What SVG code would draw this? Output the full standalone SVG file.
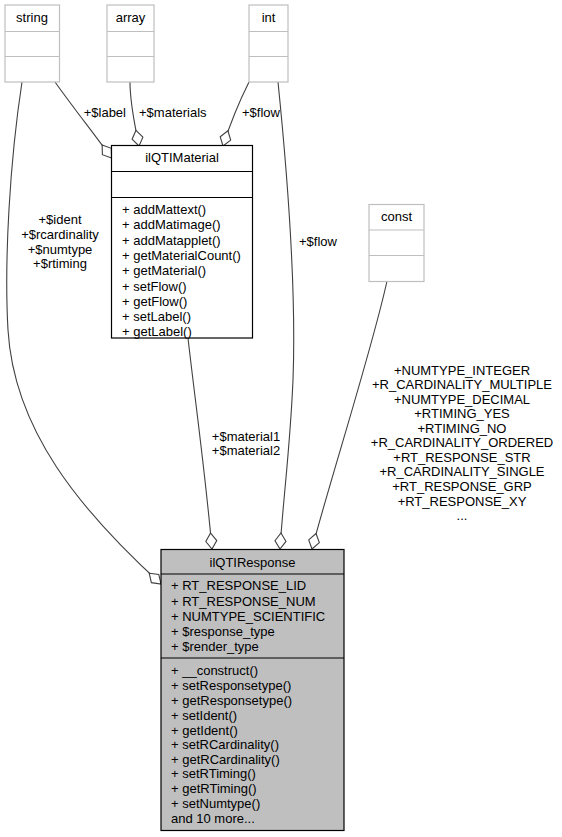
<svg xmlns="http://www.w3.org/2000/svg" width="562" height="837" viewBox="0 0 562 837">
<style>
text{font-family:"Liberation Sans",Arial,sans-serif;font-size:13px;fill:#000}
.c{text-anchor:middle}
.e{text-anchor:end}
.lt{fill:#fff;stroke:#bfbfbf;stroke-width:1.2}
.bk{fill:#fff;stroke:#000;stroke-width:1.2}
.gr{fill:#bfbfbf;stroke:#000;stroke-width:1.2}
.sepl{stroke:#bfbfbf;stroke-width:1.2}
.sepk{stroke:#000;stroke-width:1.2}
.edge{fill:none;stroke:#404040;stroke-width:1.1;marker-end:url(#od)}
</style>
<defs>
<marker id="od" markerUnits="userSpaceOnUse" markerWidth="18" markerHeight="12" refX="16" refY="5.5" orient="auto" overflow="visible">
<path d="M0,5.5 L8,0 L16,5.5 L8,11 Z" fill="#fff" stroke="#404040" stroke-width="1.1"/>
</marker>
</defs>

<g id="connectors">
<path class="edge" d="M22,82 C10,160 4,260 8,330 C14,430 80,510 161,584"/>
<path class="edge" d="M55,82 C75,110 95,135 111.5,158"/>
<path class="edge" d="M130,82 C130,105 135,125 139,146"/>
<path class="edge" d="M249,82 C240,100 232,118 223,146"/>
<path class="edge" d="M278,82 C290,200 296,300 293,380 C290,450 283,500 280,549"/>
<path class="edge" d="M387,281 C372,350 330,480 312,549"/>
<path class="edge" d="M188,338 C195,400 205,470 212,549"/>
<text class="e" x="126" y="117">+$label</text>
<text x="139" y="117">+$materials</text>
<text x="242" y="117">+$flow</text>
<text x="299" y="246">+$flow</text>
<text class="c" x="60" y="224">+$ident</text>
<text class="c" x="60" y="239">+$rcardinality</text>
<text class="c" x="60" y="254">+$numtype</text>
<text class="c" x="60" y="268">+$rtiming</text>
<text class="c" x="246" y="441">+$material1</text>
<text class="c" x="246" y="455">+$material2</text>
<text class="c" x="462" y="375">+NUMTYPE_INTEGER</text>
<text class="c" x="462" y="389">+R_CARDINALITY_MULTIPLE</text>
<text class="c" x="462" y="404">+NUMTYPE_DECIMAL</text>
<text class="c" x="462" y="418">+RTIMING_YES</text>
<text class="c" x="462" y="433">+RTIMING_NO</text>
<text class="c" x="462" y="447">+R_CARDINALITY_ORDERED</text>
<text class="c" x="462" y="462">+RT_RESPONSE_STR</text>
<text class="c" x="462" y="476">+R_CARDINALITY_SINGLE</text>
<text class="c" x="462" y="491">+RT_RESPONSE_GRP</text>
<text class="c" x="462" y="506">+RT_RESPONSE_XY</text>
<text class="c" x="462" y="520">...</text>
</g>

<g id="string">
<rect class="lt" x="5" y="5" width="54.5" height="77"/>
<line class="sepl" x1="5" y1="31.5" x2="59.5" y2="31.5"/>
<line class="sepl" x1="5" y1="56.5" x2="59.5" y2="56.5"/>
<text class="c" x="32" y="21.5">string</text>
</g>

<g id="array">
<rect class="lt" x="107" y="5" width="47" height="77"/>
<line class="sepl" x1="107" y1="31.5" x2="154" y2="31.5"/>
<line class="sepl" x1="107" y1="56.5" x2="154" y2="56.5"/>
<text class="c" x="130.5" y="21.5">array</text>
</g>

<g id="int">
<rect class="lt" x="249" y="5" width="39" height="77"/>
<line class="sepl" x1="249" y1="31.5" x2="288" y2="31.5"/>
<line class="sepl" x1="249" y1="56.5" x2="288" y2="56.5"/>
<text class="c" x="268.5" y="21.5">int</text>
</g>

<g id="const">
<rect class="lt" x="369" y="204.5" width="55" height="77"/>
<line class="sepl" x1="369" y1="230" x2="424" y2="230"/>
<line class="sepl" x1="369" y1="255.5" x2="424" y2="255.5"/>
<text class="c" x="396.5" y="221">const</text>
</g>

<g id="ilQTIMaterial">
<rect class="bk" x="111.5" y="145.5" width="141" height="192.5"/>
<line class="sepk" x1="111.5" y1="171.5" x2="252.5" y2="171.5"/>
<line class="sepk" x1="111.5" y1="197.5" x2="252.5" y2="197.5"/>
<text class="c" x="182" y="162">ilQTIMaterial</text>
<text x="122" y="214">+ addMattext()</text>
<text x="122" y="229">+ addMatimage()</text>
<text x="122" y="244.5">+ addMatapplet()</text>
<text x="122" y="260">+ getMaterialCount()</text>
<text x="122" y="275">+ getMaterial()</text>
<text x="122" y="290.5">+ setFlow()</text>
<text x="122" y="305.5">+ getFlow()</text>
<text x="122" y="321">+ setLabel()</text>
<text x="122" y="336">+ getLabel()</text>
</g>

<g id="ilQTIResponse">
<rect class="gr" x="161" y="549.5" width="183" height="281"/>
<line class="sepk" x1="161" y1="574" x2="344" y2="574"/>
<line class="sepk" x1="161" y1="658" x2="344" y2="658"/>
<text class="c" x="252.5" y="566.5">ilQTIResponse</text>
<text x="171" y="590">+ RT_RESPONSE_LID</text>
<text x="171" y="605.5">+ RT_RESPONSE_NUM</text>
<text x="171" y="620.5">+ NUMTYPE_SCIENTIFIC</text>
<text x="171" y="635.5">+ $response_type</text>
<text x="171" y="651">+ $render_type</text>
<text x="171" y="674.5">+ __construct()</text>
<text x="171" y="689.5">+ setResponsetype()</text>
<text x="171" y="704.5">+ getResponsetype()</text>
<text x="171" y="719.5">+ setIdent()</text>
<text x="171" y="734.5">+ getIdent()</text>
<text x="171" y="749">+ setRCardinality()</text>
<text x="171" y="763.5">+ getRCardinality()</text>
<text x="171" y="778">+ setRTiming()</text>
<text x="171" y="793">+ getRTiming()</text>
<text x="171" y="808">+ setNumtype()</text>
<text x="171" y="823">and 10 more...</text>
</g>
</svg>
